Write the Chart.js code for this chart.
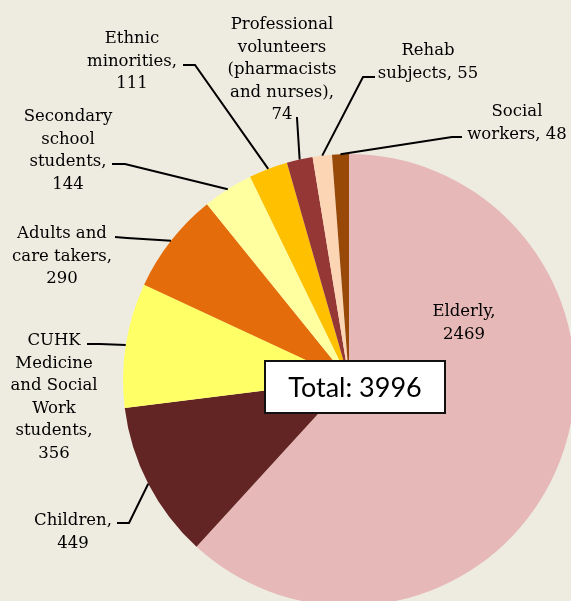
<!DOCTYPE html>
<html>
<head>
<meta charset="utf-8">
<script src="https://cdn.jsdelivr.net/npm/chart.js@4"></script>
<style>
  html, body { margin: 0; padding: 0; overflow: hidden; background: #EEECE1; width: 571px; height: 601px; }
  #wrap { position: absolute; left: 0; top: 0; }
</style>
</head>
<body>
<div id="wrap"><canvas id="pie" width="698" height="760"></canvas></div>
<script>
// 데이터
const categories = ['Elderly', 'Children', 'CUHK Medicine and Social Work students', 'Adults and care takers',
    'Secondary school students', 'Ethnic minorities', 'Professional volunteers (pharmacists and nurses)',
    'Rehab subjects', 'Social workers'];
const counts = [2469, 449, 356, 290, 144, 111, 74, 55, 48];
const sliceColors = ['#E6B9B8', '#632523', '#FFFF66', '#E46C0A', '#FFFF9F', '#FFC000', '#953735', '#FCD5B5', '#984807'];

// 라벨 배치 (중심 x, 첫 줄 baseline y, 줄바꿈 폭, 지시선 시작/꺾임점)
const labelLayout = [
    { cx: 464, y: 316, wrap: 82 },
    { cx: 73, y: 525, wrap: 92, line: [[117, 523], [129, 523]] },
    { cx: 54, y: 345, wrap: 95, line: [[87, 344], [100, 344]] },
    { cx: 62, y: 238, wrap: 108, line: [[115, 237], [127, 238]] },
    { cx: 68, y: 121, wrap: 90, line: [[112, 164], [125, 164]] },
    { cx: 132, y: 43, wrap: 98, line: [[183, 65], [195, 65]] },
    { cx: 282, y: 29, wrap: 120, line: [[296, 118], [297, 118]] },
    { cx: 428, y: 55, wrap: 110, line: [[375, 77], [363, 77]] },
    { cx: 517, y: 116, wrap: 110, line: [[462, 137], [452, 137]] }
];
const LINE_H = 22.5;
const LABEL_FONT = '16.5px "DejaVu Serif"';

function wrapText(ctx, text, maxW) {
    const words = text.split(' ');
    const lines = [];
    let cur = '';
    words.forEach(w => {
        const test = cur ? cur + ' ' + w : w;
        if (cur && ctx.measureText(test).width > maxW) { lines.push(cur); cur = w; }
        else cur = test;
    });
    if (cur) lines.push(cur);
    return lines;
}

// 라벨 + 지시선 + 합계 박스
const calloutPlugin = {
    id: 'callouts',
    afterDatasetsDraw(chart) {
        const ctx = chart.ctx;
        const arcs = chart.getDatasetMeta(0).data;
        ctx.save();
        arcs.forEach((arc, i) => {
            const p = arc.getProps(['x', 'y', 'startAngle', 'endAngle', 'outerRadius'], true);
            const mid = (p.startAngle + p.endAngle) / 2;
            const ex = p.x + Math.cos(mid) * p.outerRadius;
            const ey = p.y + Math.sin(mid) * p.outerRadius;
            const lay = labelLayout[i];
            if (lay.line) {
                ctx.beginPath();
                ctx.moveTo(lay.line[0][0], lay.line[0][1]);
                ctx.lineTo(lay.line[1][0], lay.line[1][1]);
                ctx.lineTo(ex, ey);
                ctx.strokeStyle = '#000';
                ctx.lineWidth = 2;
                ctx.stroke();
            }
            ctx.font = LABEL_FONT;
            ctx.fillStyle = '#000';
            ctx.textAlign = 'center';
            ctx.textBaseline = 'alphabetic';
            const lines = wrapText(ctx, categories[i] + ', ' + counts[i], lay.wrap);
            lines.forEach((t, k) => ctx.fillText(t, lay.cx, lay.y + k * LINE_H));
        });

        // Total 박스
        const total = counts.reduce((a, b) => a + b, 0);
        ctx.fillStyle = '#fff';
        ctx.fillRect(265, 361, 180, 52);
        ctx.strokeStyle = '#111';
        ctx.lineWidth = 2;
        ctx.strokeRect(265, 361, 180, 52);
        ctx.font = '27px Lato';
        ctx.fillStyle = '#000';
        ctx.textAlign = 'center';
        ctx.textBaseline = 'middle';
        ctx.fillText('Total: ' + total, 355, 388);
        ctx.restore();
    }
};

function init() {
    new Chart(document.getElementById('pie'), {
        type: 'pie',
        data: {
            labels: categories,
            datasets: [{ data: counts, backgroundColor: sliceColors, borderWidth: 0 }]
        },
        options: {
            responsive: false,
            animation: false,
            layout: { padding: { left: 123, right: 123, top: 154, bottom: 154 } },
            plugins: { legend: { display: false }, tooltip: { enabled: false } }
        },
        plugins: [calloutPlugin]
    });
}

window.onload = init;
</script>
</body>
</html>
